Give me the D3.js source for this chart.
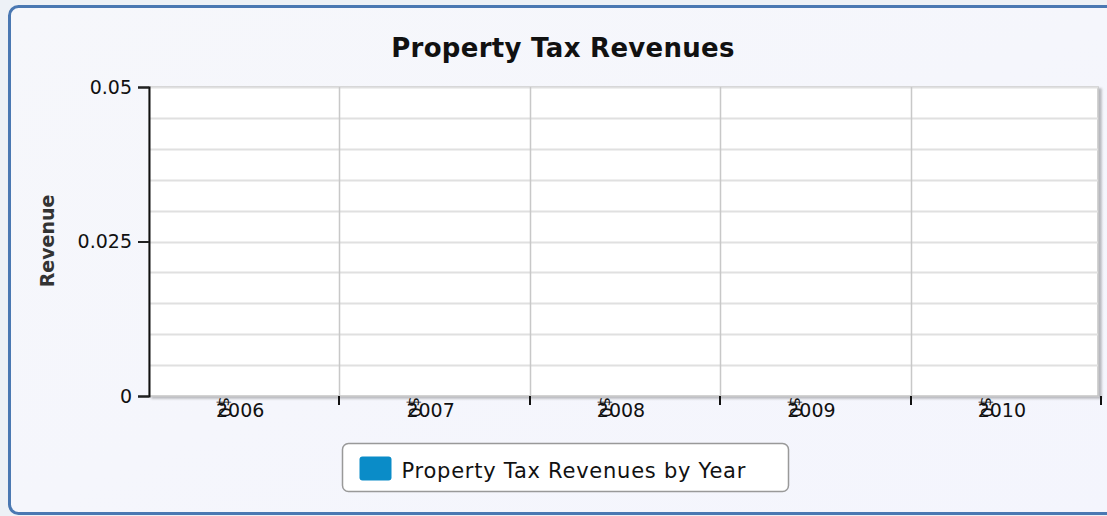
<!DOCTYPE html>
<html>
<head>
<meta charset="utf-8">
<script src="https://cdn.jsdelivr.net/npm/d3@7"></script>
<style>
  html, body { margin: 0; padding: 0; background: #edf1f6; }
  svg { display: block; }
  text { font-family: "DejaVu Sans", "Lucida Grande", sans-serif; fill: #111; }
</style>
</head>
<body>
<svg id="chart" width="1107" height="516"></svg>
<script>
// Yearly property tax revenue (all years reported as zero)
const years = ["2006", "2007", "2008", "2009", "2010"];
const revenues = [0, 0, 0, 0, 0];
const yTicks = [0, 0.025, 0.05];
const yMinorTicks = [0, 0.005, 0.01, 0.015, 0.02, 0.025, 0.03, 0.035, 0.04, 0.045, 0.05];
const seriesName = "Property Tax Revenues by Year";
const chartTitle = "Property Tax Revenues";
const yTitle = "Revenue";

const svg = d3.select("#chart");
const W = 1107, H = 516;
const margin = { left: 149, right: 6, top: 87, bottom: 120 };
const plotW = W - margin.left - margin.right;
const plotH = H - margin.top - margin.bottom;

const defs = svg.append("defs");
const bgGrad = defs.append("linearGradient").attr("id", "bgGrad")
  .attr("x1", "0").attr("y1", "0").attr("x2", "1").attr("y2", "1");
bgGrad.append("stop").attr("offset", "0").attr("stop-color", "#f6f7fb");
bgGrad.append("stop").attr("offset", "1").attr("stop-color", "#f4f5fd");
const shadow = defs.append("filter").attr("id", "shadow")
  .attr("x", "-5%").attr("y", "-5%").attr("width", "110%").attr("height", "115%");
shadow.append("feDropShadow").attr("dx", 3).attr("dy", 2).attr("stdDeviation", 1.2)
  .attr("flood-color", "#000").attr("flood-opacity", 0.25);

// Outer panel
svg.append("rect").attr("x", 9.5).attr("y", 6.5).attr("width", W + 20).attr("height", 507)
  .attr("rx", 9).attr("fill", "url(#bgGrad)").attr("stroke", "#4a78b2").attr("stroke-width", 3);

// Title
svg.append("text").attr("x", 563).attr("y", 57).attr("text-anchor", "middle")
  .attr("font-size", 26).attr("font-weight", "bold").attr("letter-spacing", 0.3).text(chartTitle);

const x = d3.scaleBand().domain(years).range([0, plotW]).paddingInner(0.25).paddingOuter(0.125);
const y = d3.scaleLinear().domain([0, 0.05]).range([plotH, 0]);

const g = svg.append("g").attr("transform", `translate(${margin.left},${margin.top})`);

// Plot background
g.append("rect").attr("width", plotW - 3).attr("height", plotH)
  .attr("fill", "#fff").attr("stroke", "#c4c4c4").attr("stroke-width", 1.5)
  .attr("filter", "url(#shadow)");

// Horizontal grid
g.append("g").selectAll("line").data(yMinorTicks.slice(1)).join("line")
  .attr("x1", 0).attr("x2", plotW - 3)
  .attr("y1", d => Math.round(y(d)) + 0.5).attr("y2", d => Math.round(y(d)) + 0.5)
  .attr("stroke", "#e0e0e0").attr("stroke-width", 2);

// Vertical grid at category boundaries
const step = x.step();
const bounds = years.map((d, i) => (i + 1) * step);
g.append("g").selectAll("line").data(bounds.slice(0, -1)).join("line")
  .attr("x1", d => Math.round(d) + 0.5).attr("x2", d => Math.round(d) + 0.5)
  .attr("y1", 0).attr("y2", plotH)
  .attr("stroke", "#c8c8c8").attr("stroke-width", 1.5);

// Bars
g.append("g").selectAll("rect").data(revenues).join("rect")
  .attr("x", (d, i) => x(years[i])).attr("width", x.bandwidth())
  .attr("y", d => y(d)).attr("height", d => plotH - y(d))
  .attr("fill", "#0a8cc8");

// Y axis
const yAxis = g.append("g").call(d3.axisLeft(y).tickValues(yTicks).tickSize(11).tickPadding(6)
  .tickFormat(d => d === 0 ? "0" : String(+d.toFixed(3))));
yAxis.select(".domain").attr("stroke", "#111").attr("stroke-width", 2);
yAxis.selectAll(".tick line").attr("stroke", "#222").attr("stroke-width", 2);
yAxis.selectAll(".tick text").attr("font-size", 19).attr("font-family", "DejaVu Sans").attr("fill", "#111");

// X axis with labels at centres and ticks at boundaries
const xAxis = g.append("g").attr("transform", `translate(0,${plotH})`)
  .call(d3.axisBottom(x).tickSize(0).tickPadding(8).tickSizeOuter(0));
xAxis.select(".domain").attr("stroke", "#111").attr("stroke-width", 2).attr("filter", "url(#shadow)");
xAxis.selectAll(".tick text").attr("font-size", 19).attr("font-family", "DejaVu Sans")
  .attr("fill", "#111").attr("dx", -4);
xAxis.selectAll(".bound").data(bounds).join("line").attr("class", "bound")
  .attr("x1", d => Math.round(d)).attr("x2", d => Math.round(d))
  .attr("y1", 0).attr("y2", 9).attr("stroke", "#111").attr("stroke-width", 2);

// Value labels, rotated, drawn at the bar tops
g.append("g").selectAll("text").data(revenues).join("text")
  .attr("transform", (d, i) => `translate(${x(years[i]) + x.bandwidth() / 2 - 26},${y(d) + 1}) rotate(90)`)
  .attr("font-size", 16).attr("dy", "-0.05em").attr("text-anchor", "start")
  .text(d => "$" + d3.format(",")(d));

// Y title
svg.append("text").attr("transform", "translate(54,241) rotate(-90)")
  .attr("text-anchor", "middle").attr("font-size", 19).attr("font-weight", "bold")
  .style("fill", "#333").text(yTitle);

// Legend
const lg = svg.append("g").attr("transform", "translate(342.5,443.5)");
lg.append("rect").attr("width", 446).attr("height", 48).attr("rx", 6)
  .attr("fill", "#fff").attr("stroke", "#999").attr("stroke-width", 1.5);
lg.append("rect").attr("x", 17).attr("y", 13).attr("width", 32).attr("height", 24).attr("rx", 3)
  .attr("fill", "#0a8cc8");
lg.append("text").attr("x", 59).attr("y", 34).attr("font-size", 21).attr("letter-spacing", 0.75)
  .text(seriesName);
</script>
</body>
</html>
